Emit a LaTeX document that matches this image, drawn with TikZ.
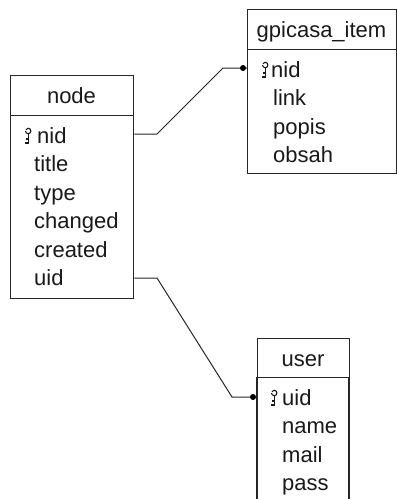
\documentclass[tikz,border=0pt]{standalone}
\usepackage{fontspec}
\setmainfont{Liberation Sans}
\begin{document}
\begin{tikzpicture}[x=1pt,y=-1pt,
  box/.style={draw=black!85,line width=1.3pt},
  conn/.style={draw=black!85,line width=1pt},
  fld/.style={anchor=base west,inner sep=0pt,font=\fontsize{22}{26}\selectfont,text=black!90},
  ttl/.style={anchor=base,inner sep=0pt,font=\fontsize{22}{26}\selectfont,text=black!90},
  keyic/.style={draw=black!90,line width=1.1pt},
  dotc/.style={circle,fill=black,inner sep=0pt,minimum size=6pt}]
\useasboundingbox (0,0) rectangle (397,499);
\newcommand{\keyat}[2]{%
  \draw[keyic] (#1+1.5,#2-12) arc[start angle=180,end angle=-150,radius=2.7];
  \draw[keyic] (#1+4.2,#2-9.5) -- (#1+4.2,#2) -- (#1+1,#2);
  \draw[keyic] (#1+4.2,#2-4) -- (#1+1.5,#2-4);
}
% ---------- node table
\node[box,minimum width=123pt,minimum height=40pt,inner sep=0pt,anchor=north west] (nodeh) at (10,75) {};
\node[box,minimum width=123pt,minimum height=183pt,inner sep=0pt,anchor=north west] (nodeb) at (10,115) {};
\node[ttl] (nodet) at (71.5,103) {node};
\keyat{24}{143}
\node[fld] (n1) at (37,143) {nid};
\node[fld] (n2) at (34,171.5) {title};
\node[fld] (n3) at (34,200) {type};
\node[fld] (n4) at (34,228.5) {changed};
\node[fld] (n5) at (34,257) {created};
\node[fld] (n6) at (34,285.5) {uid};
% ---------- gpicasa_item table
\node[box,minimum width=149pt,minimum height=40pt,inner sep=0pt,anchor=north west] (gh) at (247,9) {};
\node[box,minimum width=149pt,minimum height=124pt,inner sep=0pt,anchor=north west] (gb) at (247,49) {};
\node[ttl] (gt) at (321.5,37) {gpicasa\_item};
\keyat{261}{77}
\node[fld] (g1) at (271,77) {nid};
\node[fld] (g2) at (273,105.5) {link};
\node[fld] (g3) at (273,134) {popis};
\node[fld] (g4) at (273,162.5) {obsah};
% ---------- user table
\node[box,minimum width=92pt,minimum height=39pt,inner sep=0pt,anchor=north west] (uh) at (257,338) {};
\draw[box] (257,377) -- (257,505);
\draw[box] (349,377) -- (349,505);
\node[ttl] (ut) at (303,366) {user};
\keyat{270}{405}
\node[fld] (u1) at (282,405) {uid};
\node[fld] (u2) at (282,433.5) {name};
\node[fld] (u3) at (282,462) {mail};
\node[fld] (u4) at (282,490.5) {pass};
% ---------- connectors
\coordinate (c1s) at (nodeb.east |- 0,134);
\coordinate (c1e) at (gb.west |- 0,68);
\coordinate (c2s) at (nodeb.east |- 0,278);
\coordinate (c2e) at (257,397);
\draw[conn] (c1s) -- (157,134) -- (223,68) -- (c1e);
\node[dotc] (d1) at (243,68) {};
\draw[conn] (c2s) -- (157,278) -- (232,397) -- (c2e);
\node[dotc] (d2) at (253,397) {};
\end{tikzpicture}
\end{document}
